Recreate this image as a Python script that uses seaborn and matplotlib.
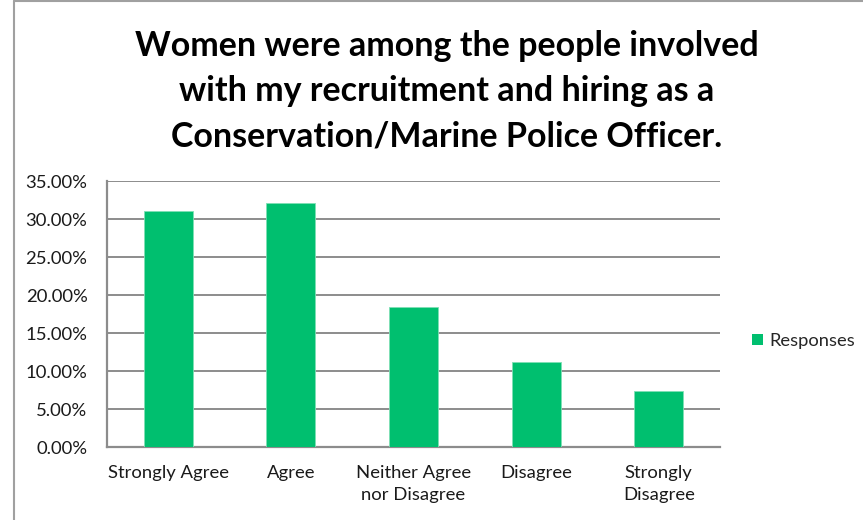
import matplotlib
matplotlib.use("Agg")
import matplotlib.pyplot as plt
import seaborn as sns
import pandas as pd
from matplotlib.lines import Line2D
from matplotlib.patches import Patch
from matplotlib.ticker import FuncFormatter, MultipleLocator

categories = ["Strongly Agree", "Agree", "Neither Agree\nnor Disagree", "Disagree", "Strongly\nDisagree"]
responses = [31.0, 32.1, 18.4, 11.2, 7.4]
series_name = "Responses"
title = "Women were among the people involved\nwith my recruitment and hiring as a\nConservation/Marine Police Officer."

sns.set_theme(style="white")
plt.rcParams["font.family"] = ["Lato", "DejaVu Sans"]

W, H = 863, 520
fig = plt.figure(figsize=(W / 100, H / 100), dpi=100)
ax = fig.add_axes([107 / W, 1 - 447 / H, (720 - 107) / W, (447 - 181) / H])

df = pd.DataFrame({"category": categories, "value": responses})
green = "#00BF6F"
sns.barplot(data=df, x="category", y="value", color=green, width=0.4,
            saturation=1, ax=ax, edgecolor="#7FE0B5", linewidth=0.6, zorder=3)

ax.set_ylim(0, 35)
ax.set_xlim(-0.5, len(categories) - 0.5)
ax.yaxis.set_major_locator(MultipleLocator(5))
ax.yaxis.set_major_formatter(FuncFormatter(lambda v, p: f"{v:.2f}%"))
ax.grid(axis="y", color="#8C8C8C", linewidth=1.4, zorder=0)
ax.set_axisbelow(True)
for side in ["top", "right"]:
    ax.spines[side].set_visible(False)
for side in ["left", "bottom"]:
    ax.spines[side].set_color("#8C8C8C")
    ax.spines[side].set_linewidth(1.6)
ax.set_xlabel("")
ax.set_ylabel("")
ax.tick_params(axis="both", length=0, labelsize=13.3, colors="#1a1a1a")
ax.tick_params(axis="x", pad=13)
ax.tick_params(axis="y", pad=14)
for lbl in ax.get_xticklabels():
    lbl.set_linespacing(1.45)

fig.text(447 / W, 1 - 91 / H, title, ha="center", va="center", fontsize=24.5,
         fontweight="bold", linespacing=1.5, color="#000000")

handles = [Patch(facecolor=green, edgecolor="none", label=series_name)]
fig.legend(handles=handles, loc="center left", bbox_to_anchor=(752 / W, 1 - 341 / H),
           frameon=False, fontsize=13.2, handlelength=0.6, handleheight=0.6,
           handletextpad=0.35, borderpad=0, borderaxespad=0)

# outer chart frame
fig.add_artist(Line2D([14 / W, 14 / W], [0, 1 - 1 / H], transform=fig.transFigure,
                      color="#A0A0A0", linewidth=1.5))
fig.add_artist(Line2D([14 / W, 1], [1 - 1 / H, 1 - 1 / H], transform=fig.transFigure,
                      color="#A0A0A0", linewidth=1.5))

fig.savefig("out.png", dpi=100, facecolor="white")
